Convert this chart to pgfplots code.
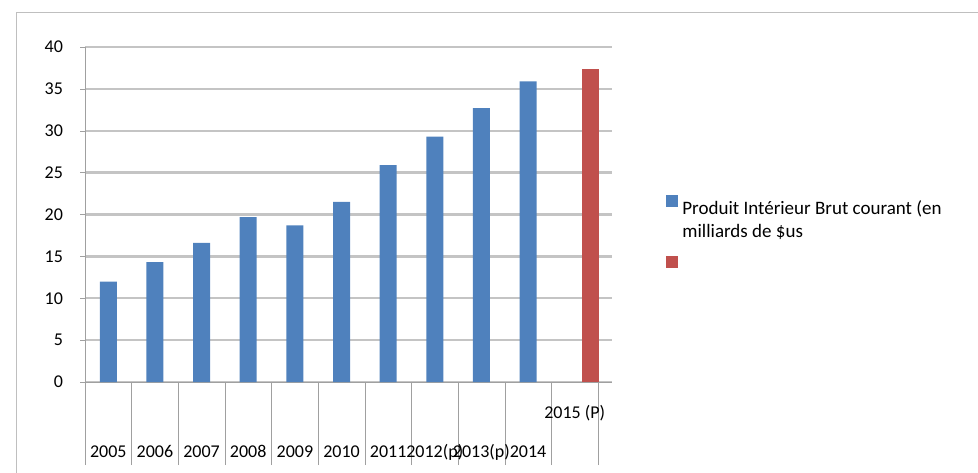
\documentclass[border=0pt]{standalone}
\usepackage{pgfplots}
\pgfplotsset{compat=1.18}
\usepackage{fontspec}
\setmainfont{Carlito}
\definecolor{pibblue}{HTML}{4F81BD}
\definecolor{pibred}{HTML}{C0504D}
\definecolor{gridgray}{HTML}{C4C4C4}
\definecolor{axgray}{HTML}{A0A0A0}

\begin{document}
\begin{tikzpicture}[font=\fontsize{9}{11.5}\selectfont]
% 1 px of the 978x472 reference = 0.5pt
\useasboundingbox (0pt,0pt) rectangle (489pt,236pt);
\clip (0pt,0pt) rectangle (489pt,236pt);
\draw[gray!50] (8pt,-5pt) -- (8pt,230pt) -- (495pt,230pt);
\begin{axis}[
    at={(42.5pt,45pt)}, anchor=south west,
    scale only axis, width=263.5pt, height=167.5pt,
    xmin=-0.5, xmax=10.8, ymin=0, ymax=40,
    axis lines*=left,
    axis line style={axgray},
    tick align=outside,
    tick style={axgray},
    major tick length=2.5pt,
    xtick={-0.5,0.5,...,10.5},
    xtick style={/pgfplots/major tick length=41.5pt},
    x tick label as interval,
    xticklabels={2005,2006,2007,2008,2009,2010,2011,2012(p),2013(p),2014,
      {\raisebox{19.5pt}[0pt][0pt]{2015 (P)}}},
    xticklabel style={text height=7pt, text depth=2pt, yshift=-24.5pt},
    ytick={0,5,...,40},
    yticklabel style={xshift=-5pt},
    /pgf/number format/assume math mode=true,
    ymajorgrids,
    grid style={gridgray, line width=1.2pt},
    legend style={draw=none, fill=none, at={(1.0911,0.571)}, anchor=north west,
      font=\fontsize{9.5}{11.5}\selectfont, row sep=5.5pt,
      cells={anchor=west, align=left}},
    legend cell align=left,
]
\addplot[ybar, bar width=8.5pt, bar shift=0pt, draw=none, fill=pibblue,
    legend image code/.code={
      \path[draw=none, fill=none] (0pt,-12.5pt) rectangle (6pt,-12.5pt);
      \fill[pibblue] (0pt,6.5pt) rectangle (6pt,12.5pt);}]
    coordinates {(0,12.0) (1,14.3) (2,16.6) (3,19.7) (4,18.7) (5,21.5)
                 (6,25.9) (7,29.3) (8,32.7) (9,35.9)};
\addlegendentry{Produit Intérieur Brut courant (en\\milliards de \$us}
\addplot[ybar, bar width=8.5pt, bar shift=0pt, draw=none, fill=pibred,
    legend image code/.code={\fill[pibred] (0pt,-3pt) rectangle (6pt,3pt);}]
    coordinates {(10.34,37.4)};
\addlegendentry{}
\end{axis}
\end{tikzpicture}
\end{document}
